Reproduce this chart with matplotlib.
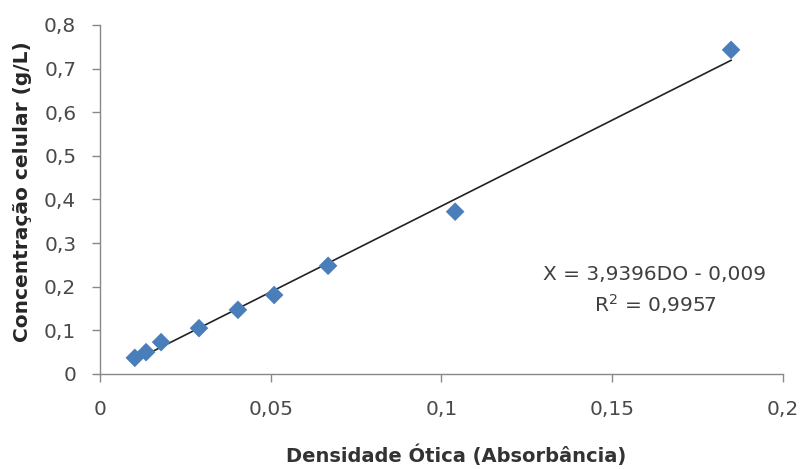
import matplotlib.pyplot as plt
import numpy as np

# Dados
densidade = [0.0102, 0.0135, 0.0179, 0.029, 0.0404, 0.051, 0.0668, 0.104, 0.1848]
concentracao = [0.037, 0.050, 0.073, 0.105, 0.147, 0.181, 0.248, 0.372, 0.743]
slope, intercept = 3.9396, -0.009
xticks = [0, 0.05, 0.1, 0.15, 0.2]
xticklabels = ['0', '0,05', '0,1', '0,15', '0,2']
yticks = [0, 0.1, 0.2, 0.3, 0.4, 0.5, 0.6, 0.7, 0.8]
yticklabels = ['0', '0,1', '0,2', '0,3', '0,4', '0,5', '0,6', '0,7', '0,8']

plt.rcParams['font.family'] = ['DejaVu Sans']

fig = plt.figure(figsize=(8.01, 4.69), dpi=100)
ax = fig.add_axes([0.1248, 0.2026, 0.8527, 0.7441])

xl = np.array([min(densidade), max(densidade)])
ax.plot(xl, slope * xl + intercept, color='#222222', lw=1.2, zorder=2)
ax.scatter(densidade, concentracao, marker='D', s=90, color='#4a7ebb',
           edgecolors='none', zorder=3)

ax.set_xlim(0, 0.2)
ax.set_ylim(0, 0.8)
ax.set_xticks(xticks)
ax.set_xticklabels(xticklabels)
ax.set_yticks(yticks)
ax.set_yticklabels(yticklabels)

for s in ['top', 'right']:
    ax.spines[s].set_visible(False)
for s in ['left', 'bottom']:
    ax.spines[s].set_color('#888888')
    ax.spines[s].set_linewidth(1.0)
ax.tick_params(axis='both', direction='out', length=6, width=1.0,
               color='#888888', labelsize=14.5, labelcolor='#4a4a4a')
ax.tick_params(axis='x', pad=13)
ax.tick_params(axis='y', pad=11)

# rótulos dos eixos em coordenadas de pixel da figura
fig.text(456 / 801, 1 - 455 / 469, 'Densidade Ótica (Absorbância)', ha='center',
         va='center', fontsize=14, fontweight='bold', color='#333333')
fig.text(23 / 801, 1 - 192 / 469, 'Concentração celular (g/L)', ha='center',
         va='center', rotation=90, fontsize=14.5, fontweight='bold', color='#262626')

ax.text(0.1625, 0.229, 'X = 3,9396DO - 0,009', ha='center', va='center',
        fontsize=14.5, color='#404040')
ax.text(0.1625, 0.160, 'R$^2$ = 0,9957', ha='center', va='center',
        fontsize=14.5, color='#404040')

fig.savefig('out.png', dpi=100)
